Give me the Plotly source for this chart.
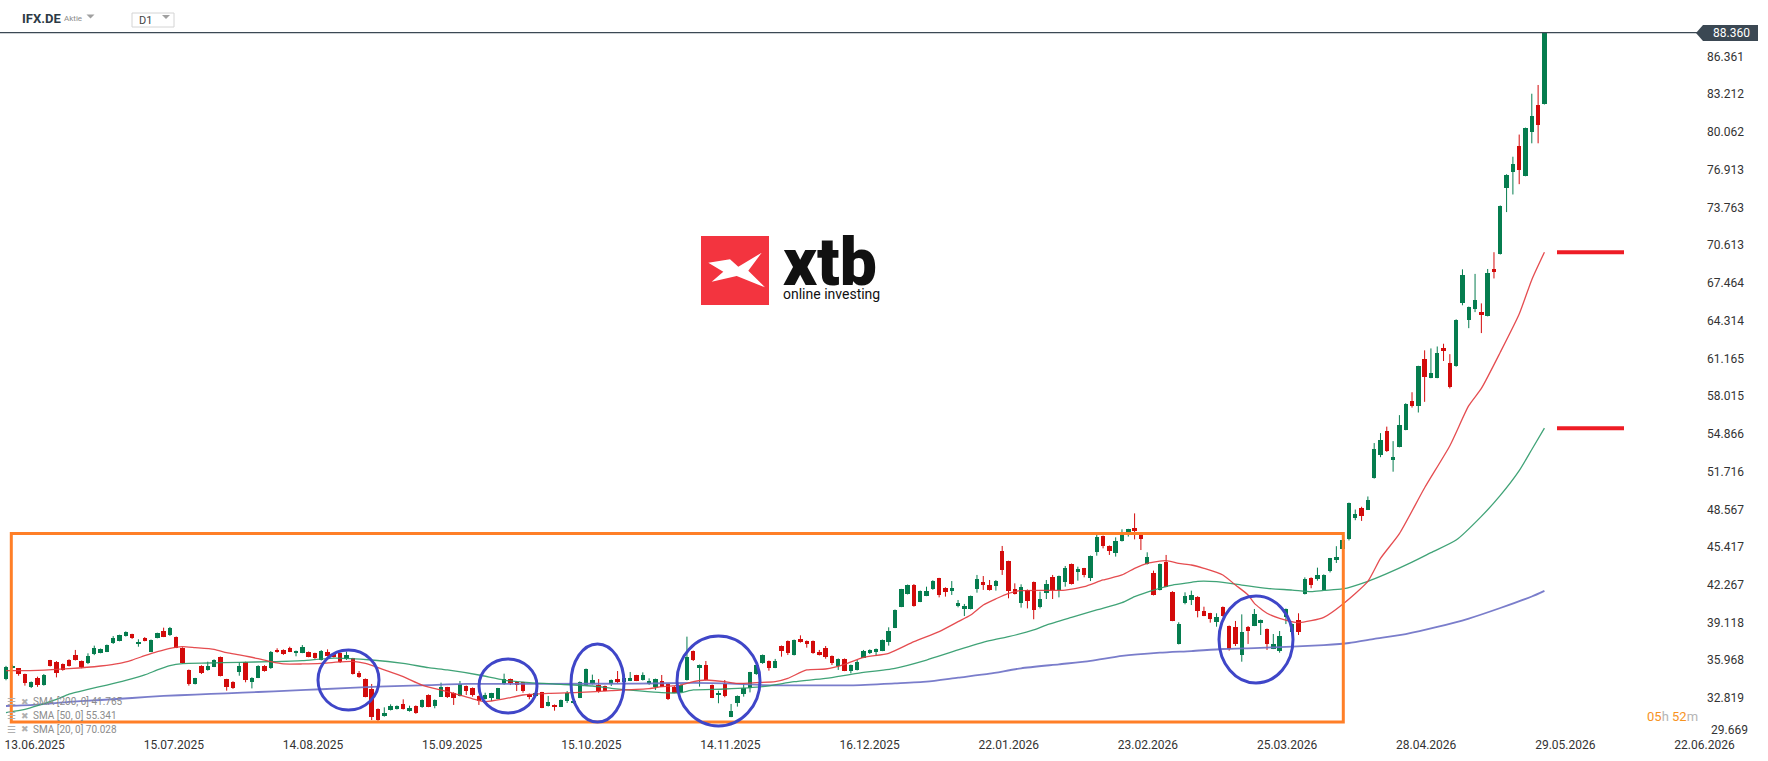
import plotly.graph_objects as go

# ---------------- data ----------------
symbol = "IFX.DE"
symbol_kind = "Aktie"
timeframe = "D1"
last_price = 88.360
countdown = ("05", "52")
brand = ("xtb", "online investing")

opens = [34.38, 35.37, 35.29, 34.82, 33.71, 34.46, 33.90, 35.99, 35.85, 35.66,
         35.99, 36.41, 35.91, 35.71, 36.46, 36.60, 36.69, 37.38, 37.61, 37.99,
         38.13, 37.30, 37.85, 36.69, 37.85, 38.41, 38.08, 37.91, 37.02, 35.16,
         33.99, 35.49, 35.16, 35.43, 36.24, 34.38, 34.18, 35.02, 35.80, 34.18,
         34.52, 35.52, 35.29, 36.83, 36.83, 36.97, 36.55, 36.60, 36.66, 36.55,
         35.99, 36.63, 36.49, 36.55, 36.05, 36.13, 34.93, 34.40, 33.57, 31.90,
         31.32, 31.82, 31.90, 32.29, 31.74, 32.15, 32.04, 33.07, 32.15, 32.93,
         33.71, 33.26, 32.99, 33.82, 33.65, 32.99, 32.74, 32.79, 32.76, 33.96,
         34.40, 34.18, 34.13, 33.15, 32.96, 33.29, 32.15, 32.24, 32.10, 32.60,
         32.38, 32.85, 33.90, 33.99, 33.90, 33.82, 33.99, 34.38, 34.18, 34.27,
         34.71, 34.32, 33.96, 33.71, 34.21, 33.99, 33.77, 33.35, 34.32, 36.74,
         35.29, 35.57, 33.90, 33.07, 33.96, 31.26, 32.38, 33.12, 33.68, 34.79,
         35.71, 35.91, 35.35, 37.16, 37.58, 36.41, 37.72, 37.58, 37.58, 36.69,
         36.97, 36.33, 35.52, 36.08, 35.07, 35.16, 36.19, 36.58, 36.69, 36.77,
         37.52, 38.69, 40.44, 41.50, 42.25, 40.86, 41.36, 41.89, 42.81, 41.98,
         41.78, 40.50, 40.28, 40.25, 41.92, 42.50, 42.25, 42.17, 45.09, 44.24,
         41.89, 40.78, 41.84, 42.50, 40.44, 41.61, 42.89, 41.84, 42.53, 44.00,
         43.36, 43.64, 42.86, 45.04, 46.34, 45.51, 44.95, 45.92, 46.62, 46.98,
         46.51, 44.00, 43.28, 41.84, 44.20, 41.70, 37.33, 40.78, 41.00, 41.28,
         40.08, 39.89, 39.19, 40.42, 38.83, 38.75, 36.41, 38.77, 38.86, 39.11,
         38.58, 36.94, 36.74, 39.61, 38.30, 39.33, 41.50, 42.85, 42.72, 41.86,
         43.42, 44.38, 45.27, 46.06, 47.88, 48.71, 48.55, 51.17, 53.14, 55.09,
         52.76, 53.78, 55.21, 57.60, 57.22, 61.11, 59.55, 59.55, 62.07, 60.82,
         60.51, 65.83, 64.39, 65.29, 65.03, 64.71, 68.66, 69.88, 75.39, 76.73,
         78.89, 76.41, 80.07, 82.34, 82.40]

highs = [35.50, 35.60, 35.30, 34.85, 34.20, 34.60, 34.82, 36.00, 35.90, 35.70,
         36.05, 36.83, 35.95, 36.55, 37.19, 36.95, 37.28, 37.99, 38.10, 38.38,
         38.18, 37.72, 37.90, 37.70, 38.27, 38.69, 38.75, 37.95, 37.05, 35.20,
         34.50, 35.55, 35.85, 36.05, 36.28, 34.42, 34.22, 35.80, 35.85, 34.55,
         35.55, 35.56, 36.74, 36.97, 36.88, 37.10, 36.78, 37.24, 36.70, 36.60,
         36.82, 36.88, 36.55, 36.60, 36.69, 36.17, 35.07, 34.45, 33.99, 31.95,
         32.04, 32.29, 32.20, 32.71, 32.18, 32.20, 32.70, 33.12, 32.70, 34.10,
         33.75, 33.30, 34.24, 33.86, 33.70, 33.03, 33.26, 33.25, 33.66, 34.85,
         34.44, 34.22, 34.17, 33.19, 33.25, 33.33, 32.99, 32.28, 32.69, 33.40,
         32.64, 34.20, 35.28, 34.77, 34.40, 33.86, 34.36, 35.07, 34.56, 34.99,
         34.75, 34.96, 34.46, 34.44, 34.74, 34.03, 33.81, 33.94, 37.94, 36.78,
         35.61, 35.91, 33.94, 33.43, 34.32, 32.32, 33.03, 34.04, 35.00, 35.61,
         36.45, 35.95, 36.08, 37.20, 37.62, 37.70, 38.05, 37.62, 37.62, 36.83,
         37.16, 36.37, 36.12, 36.12, 35.61, 35.99, 36.83, 36.88, 36.95, 37.70,
         38.72, 40.21, 41.93, 42.29, 42.33, 41.79, 42.11, 42.65, 42.85, 42.06,
         42.58, 41.00, 40.67, 41.37, 43.09, 43.00, 42.67, 42.67, 45.51, 44.28,
         42.39, 42.31, 41.88, 42.54, 41.70, 42.67, 43.09, 43.04, 43.84, 44.04,
         43.78, 43.68, 44.71, 46.48, 46.38, 45.55, 46.23, 46.90, 46.94, 48.23,
         46.55, 44.98, 43.45, 44.04, 44.76, 41.74, 39.14, 41.64, 41.78, 41.32,
         40.44, 39.93, 39.89, 40.46, 38.87, 39.25, 39.80, 38.83, 40.25, 39.37,
         38.62, 38.16, 38.41, 40.29, 39.03, 39.89, 42.89, 42.89, 43.70, 43.14,
         44.51, 45.49, 46.20, 49.13, 48.55, 48.78, 49.64, 54.10, 54.93, 55.47,
         54.26, 56.43, 57.42, 58.34, 60.55, 61.84, 62.00, 62.16, 62.39, 61.52,
         64.43, 68.60, 65.49, 68.22, 65.76, 68.63, 70.03, 73.93, 76.54, 78.00,
         79.85, 80.43, 83.26, 83.99, 88.36]

lows = [34.30, 35.30, 34.68, 33.85, 33.65, 33.75, 33.85, 35.45, 34.54, 35.10,
        35.45, 35.95, 35.30, 35.65, 36.40, 36.55, 36.65, 37.33, 37.55, 37.95,
        37.75, 37.10, 37.55, 36.65, 37.80, 37.90, 38.00, 36.98, 35.70, 33.85,
        33.95, 34.82, 35.10, 35.40, 34.62, 33.43, 33.58, 34.68, 34.13, 33.62,
        34.48, 35.02, 35.25, 36.60, 36.42, 36.65, 36.30, 36.56, 36.22, 36.08,
        35.95, 36.28, 36.20, 35.75, 36.00, 34.78, 34.50, 32.88, 30.98, 30.90,
        31.26, 31.78, 31.86, 31.86, 31.68, 31.50, 32.00, 32.05, 31.96, 32.90,
        32.82, 32.24, 32.95, 33.07, 32.93, 32.24, 32.70, 32.57, 32.72, 33.92,
        33.90, 33.40, 33.26, 32.71, 32.92, 31.97, 32.11, 31.76, 32.06, 32.40,
        32.34, 32.81, 33.86, 33.95, 33.26, 33.39, 33.82, 34.04, 34.14, 34.23,
        34.23, 34.28, 33.92, 33.49, 33.73, 32.65, 33.22, 33.31, 34.28, 35.91,
        33.77, 34.28, 32.81, 32.38, 32.88, 31.22, 32.10, 32.93, 33.29, 34.75,
        35.67, 35.10, 35.31, 36.27, 36.41, 36.37, 37.44, 37.02, 36.51, 36.37,
        36.10, 35.57, 35.16, 35.06, 34.88, 35.12, 36.15, 36.49, 36.33, 36.73,
        37.19, 38.65, 40.40, 41.46, 40.44, 40.82, 41.32, 41.85, 41.22, 41.28,
        41.42, 40.39, 39.66, 40.21, 41.61, 41.84, 41.78, 41.78, 43.09, 41.14,
        41.46, 40.36, 40.30, 39.39, 40.30, 41.08, 41.08, 41.22, 42.11, 42.29,
        42.61, 42.89, 42.58, 44.70, 45.31, 44.76, 44.62, 45.88, 46.29, 46.06,
        45.17, 43.96, 41.38, 41.80, 42.07, 39.23, 37.29, 40.64, 40.58, 39.55,
        39.65, 39.11, 38.77, 39.62, 36.77, 37.16, 35.85, 37.33, 38.82, 38.08,
        36.83, 36.90, 36.60, 38.99, 38.26, 38.08, 41.46, 41.98, 42.61, 41.82,
        43.30, 44.09, 45.23, 45.97, 47.66, 47.60, 48.51, 51.13, 52.92, 53.36,
        51.71, 53.74, 55.17, 57.06, 56.65, 57.54, 59.51, 59.51, 60.95, 58.66,
        60.47, 65.60, 63.69, 65.03, 63.28, 64.67, 67.84, 69.84, 73.38, 74.85,
        75.71, 76.37, 79.12, 79.12, 82.36]

closes = [35.43, 35.52, 34.82, 34.04, 34.18, 33.90, 34.74, 35.52, 34.93, 35.16,
          35.49, 35.99, 35.38, 36.32, 36.96, 36.91, 37.24, 37.85, 38.05, 38.30,
          37.80, 37.52, 37.61, 37.66, 38.22, 37.94, 38.66, 37.02, 35.77, 33.99,
          34.46, 34.88, 35.49, 35.99, 34.68, 33.71, 33.62, 35.52, 34.32, 34.49,
          35.49, 35.10, 36.69, 36.63, 36.46, 36.69, 36.74, 37.10, 36.27, 36.13,
          36.77, 36.32, 36.27, 35.80, 36.41, 34.82, 34.54, 32.93, 31.26, 30.98,
          31.60, 32.15, 32.15, 31.90, 31.99, 31.54, 32.65, 32.10, 32.65, 33.77,
          32.93, 32.85, 33.96, 33.40, 33.10, 32.57, 33.07, 33.21, 33.62, 34.40,
          34.10, 33.90, 33.43, 32.93, 33.21, 32.01, 32.49, 32.04, 32.65, 33.26,
          32.60, 34.16, 35.24, 34.32, 33.40, 33.43, 34.32, 34.16, 34.52, 34.52,
          34.27, 34.74, 34.24, 34.40, 33.77, 32.74, 33.26, 33.90, 36.27, 35.99,
          35.57, 34.32, 32.85, 33.26, 32.99, 31.76, 32.99, 33.62, 34.96, 35.57,
          36.41, 35.35, 35.91, 36.77, 36.60, 37.66, 37.52, 37.33, 36.55, 36.41,
          36.21, 35.77, 36.08, 35.10, 35.57, 35.80, 36.74, 36.83, 36.91, 37.66,
          38.41, 40.17, 41.89, 42.25, 40.50, 41.75, 41.78, 42.61, 41.42, 41.70,
          41.98, 40.72, 40.50, 41.33, 42.75, 42.25, 41.84, 42.59, 43.50, 41.78,
          41.50, 42.06, 40.92, 40.17, 41.08, 42.34, 41.84, 43.00, 43.64, 42.33,
          43.59, 43.09, 44.67, 46.29, 45.51, 45.12, 45.92, 46.70, 46.90, 46.76,
          46.09, 44.56, 41.42, 44.00, 42.11, 39.27, 38.99, 41.33, 41.42, 40.11,
          39.69, 39.41, 39.61, 39.66, 36.91, 37.33, 38.33, 38.41, 39.80, 39.33,
          37.33, 37.33, 37.99, 40.25, 38.99, 38.30, 42.72, 42.25, 43.05, 43.10,
          44.47, 44.63, 45.97, 49.09, 48.14, 47.98, 49.35, 53.62, 54.35, 53.40,
          52.92, 55.57, 57.38, 57.22, 60.51, 59.61, 59.93, 61.59, 61.78, 58.75,
          64.39, 68.12, 65.45, 66.05, 64.81, 68.28, 68.38, 73.89, 76.50, 77.40,
          76.89, 80.39, 81.38, 80.65, 88.36]

# moving averages at bar positions
sma20_x = [0, 5, 10, 15, 18, 20, 22, 24, 26, 28, 30, 33, 35, 37, 40, 42, 44, 47, 50, 52,
           55, 57, 60, 63, 66, 70, 74, 76, 79, 82, 86, 91, 96, 102, 104, 107, 109, 111, 114, 116,
           119, 122, 124, 127, 130, 133, 136, 140, 144, 148, 151, 153, 155, 157, 159, 161, 168, 171, 174, 177,
           179, 181, 184, 186, 188, 190, 193, 195, 197, 198, 200, 202, 205, 207, 209, 212, 216, 218, 221, 225,
           229, 232, 234, 237, 240, 242, 244]
sma20_v = [35.10, 35.13, 35.27, 35.49, 35.71, 35.99, 36.35, 36.69, 36.97, 37.10, 37.02, 36.88, 36.60, 36.41, 36.10, 35.85, 35.66, 35.66, 35.71, 35.80,
           35.88, 35.71, 35.16, 34.60, 33.90, 33.35, 32.75, 32.51, 32.74, 33.07, 33.21, 33.29, 33.43, 33.60, 33.77, 33.90, 34.18, 34.32, 34.18, 34.04,
           34.10, 34.18, 34.46, 35.16, 35.24, 35.63, 36.21, 36.55, 37.52, 38.36, 39.19, 39.75, 40.58, 41.10, 41.56, 41.78, 41.83, 42.11, 42.67, 43.09,
           43.64, 44.06, 44.28, 44.06, 43.92, 43.64, 43.09, 42.25, 41.42, 40.72, 39.89, 39.47, 39.11, 39.27, 39.55, 40.65, 42.56, 44.47, 46.54, 50.37,
           53.88, 57.22, 58.66, 61.68, 64.87, 67.74, 70.028]

sma50_x = [0, 3, 5, 8, 10, 13, 16, 19, 22, 24, 26, 28, 32, 37, 42, 47, 52, 58, 63, 67,
           70, 75, 79, 83, 88, 93, 96, 100, 104, 107, 109, 114, 120, 125, 130, 135, 141, 146, 151, 156,
           159, 163, 165, 169, 173, 177, 179, 182, 185, 188, 189, 192, 196, 200, 204, 207, 209, 212, 216, 219,
           223, 226, 230, 234, 237, 240, 242, 244]
sma50_v = [31.60, 31.87, 32.18, 32.71, 33.15, 33.54, 33.90, 34.29, 34.74, 35.16, 35.52, 35.69, 35.74, 35.80, 35.85, 35.94, 36.15, 35.99, 35.71, 35.35,
           35.16, 34.74, 34.32, 34.10, 33.96, 33.82, 33.63, 33.43, 33.26, 33.26, 33.49, 33.57, 33.77, 34.18, 34.46, 34.88, 35.30, 35.99, 36.83, 37.60,
           37.94, 38.50, 38.91, 39.55, 40.17, 40.78, 41.28, 41.83, 42.25, 42.47, 42.56, 42.53, 42.25, 41.97, 41.83, 41.70, 41.80, 41.92, 42.56, 43.20,
           44.16, 44.95, 46.00, 47.98, 49.73, 51.80, 53.56, 55.341]

sma200_x = [0, 5, 10, 15, 20, 25, 30, 35, 40, 45, 50, 59, 67, 73, 85, 100, 109, 114, 120, 125,
            134, 141, 146, 151, 156, 161, 167, 172, 177, 183, 188, 193, 198, 204, 209, 213, 217, 222, 227, 232,
            237, 242, 244]
sma200_v = [32.15, 32.26, 32.49, 32.65, 32.82, 32.99, 33.10, 33.21, 33.32, 33.43, 33.55, 33.77, 33.90, 33.99, 34.00, 34.02, 34.08, 34.04, 33.90, 33.88,
            33.88, 34.04, 34.18, 34.52, 34.85, 35.30, 35.63, 35.91, 36.33, 36.60, 36.74, 36.91, 36.99, 37.10, 37.24, 37.41, 37.75, 38.16, 38.75, 39.45,
            40.33, 41.29, 41.765]

sma_labels = ["SMA [200, 0] 41.765", "SMA [50, 0] 55.341", "SMA [20, 0] 70.028"]

x_tick_labels = ["13.06.2025", "15.07.2025", "14.08.2025", "15.09.2025", "15.10.2025",
                 "14.11.2025", "16.12.2025", "22.01.2026", "23.02.2026", "25.03.2026",
                 "28.04.2026", "29.05.2026", "22.06.2026"]
y_tick_labels = ["29.669", "32.819", "35.968", "39.118", "42.267", "45.417", "48.567",
                 "51.716", "54.866", "58.015", "61.165", "64.314", "67.464", "70.613",
                 "73.763", "76.913", "80.062", "83.212", "86.361"]

# ---------------- geometry / style ----------------
W, H = 1768, 761
PLOT_W, PLOT_H = 1706, 736
BAR0_PX, BAR_PX = 6.0, 6.305
Y_REF_V, Y_REF_PX, PX_PER_UNIT = 32.819, 698.0, 11.98

GREEN = "#067d4f"
RED = "#d30b0b"
ORANGE = "#ff7f27"
BLUE = "#3f46c8"
SLATE = "#3b4853"


def x_of_px(px):
    return (px - BAR0_PX) / BAR_PX


def v_of_py(py):
    return Y_REF_V + (Y_REF_PX - py) / PX_PER_UNIT


def xp(px):
    return px / PLOT_W


def yp(py):
    return (PLOT_H - py) / PLOT_H


def note(px, py, text, size, color, xanchor="left", family="Roboto", weight=None, align=None):
    f = dict(size=size, color=color, family=family)
    if weight is not None:
        f["weight"] = weight
    d = dict(xref="paper", yref="paper", x=xp(px), y=yp(py), text=text,
             xanchor=xanchor, yanchor="middle", showarrow=False, font=f)
    if align:
        d["align"] = align
    return d


fig = go.Figure()

n = len(opens)
for is_up, col in [(True, GREEN), (False, RED)]:
    ids = [i for i in range(n) if (closes[i] >= opens[i]) == is_up]
    wx, wy = [], []
    for i in ids:
        wx += [i, i, None]
        wy += [lows[i], highs[i], None]
    fig.add_trace(go.Scatter(x=wx, y=wy, mode="lines", line=dict(color=col, width=1),
                             hoverinfo="skip"))
    fig.add_trace(go.Bar(x=ids,
                         y=[max(abs(closes[i] - opens[i]), 0.06) for i in ids],
                         base=[min(opens[i], closes[i]) for i in ids],
                         width=0.7, marker=dict(color=col, line=dict(width=0)),
                         hoverinfo="skip"))

for xs, ys, col, w in [(sma200_x, sma200_v, "#6c70c6", 1.8),
                       (sma50_x, sma50_v, "#2c9a69", 1.3),
                       (sma20_x, sma20_v, "#e33a3e", 1.3)]:
    fig.add_trace(go.Scatter(x=xs, y=ys, mode="lines",
                             line=dict(color=col, width=w, shape="spline", smoothing=0.6),
                             opacity=0.9, hoverinfo="skip"))

shapes = []
annotations = []

# last price line + tag
shapes.append(dict(type="line", xref="paper", yref="y", x0=0, x1=xp(1697),
                   y0=last_price, y1=last_price, line=dict(color=SLATE, width=1.2)))
shapes.append(dict(type="path", xref="paper", yref="paper",
                   path=f"M {xp(1696)},{yp(33)} L {xp(1703)},{yp(25)} L {xp(1758)},{yp(25)} "
                        f"L {xp(1758)},{yp(41)} L {xp(1703)},{yp(41)} Z",
                   fillcolor=SLATE, line=dict(width=0)))
annotations.append(note(1731, 33, f"{last_price:.3f}", 12, "white", xanchor="center"))

# orange box
shapes.append(dict(type="rect", xref="paper", yref="paper", x0=xp(11.3), x1=xp(1343.3),
                   y0=yp(722), y1=yp(533.5), line=dict(color=ORANGE, width=3)))

# blue ellipses
for (ax0, ax1, ay0, ay1) in [(318, 379, 650, 710), (479, 537, 659, 713),
                             (571, 624, 644, 722), (677, 760, 636, 726),
                             (1219, 1293, 596, 683)]:
    shapes.append(dict(type="circle", xref="paper", yref="paper", x0=xp(ax0), x1=xp(ax1),
                       y0=yp(ay1), y1=yp(ay0), line=dict(color=BLUE, width=3)))

# red level markers at the SMA 20 / SMA 50 end values
for lvl in (sma20_v[-1], sma50_v[-1]):
    shapes.append(dict(type="line", xref="paper", yref="y", x0=xp(1557), x1=xp(1624),
                       y0=lvl, y1=lvl, line=dict(color="#ee1c25", width=4)))

# xtb logo
shapes.append(dict(type="rect", xref="paper", yref="paper", x0=xp(701), x1=xp(769),
                   y0=yp(305), y1=yp(236), fillcolor="#f3343f", line=dict(width=0)))
pts = [(708.3, 262.7), (730, 259.3), (738.3, 266.7), (761.7, 252.7), (748.3, 270.7),
       (765, 287.3), (736.7, 276), (711.7, 281.7), (723.3, 271.7)]
path = "M " + " L ".join(f"{xp(a)},{yp(b)}" for a, b in pts) + " Z"
shapes.append(dict(type="path", xref="paper", yref="paper", path=path,
                   fillcolor="white", line=dict(width=0)))
brand_text = (f'<span style="font-size:66px;font-weight:900">{brand[0]}</span><br>'
              f'<span style="font-size:14px">{brand[1]}</span>')
annotations.append(note(781, 263, brand_text, 11, "#111111", xanchor="left", align="left"))

# header
annotations.append(note(20, 18, f"<b>{symbol}</b>", 13, "#2d3a45"))
annotations.append(note(61.5, 19, symbol_kind, 8, "#8a8a8a"))
shapes.append(dict(type="path", xref="paper", yref="paper",
                   path=f"M {xp(86.5)},{yp(14.5)} L {xp(94.5)},{yp(14.5)} L {xp(90.5)},{yp(18.5)} Z",
                   fillcolor="#a0a0a0", line=dict(width=0)))
shapes.append(dict(type="rect", xref="paper", yref="paper", x0=xp(132), x1=xp(174),
                   y0=yp(27), y1=yp(13), fillcolor="white", line=dict(color="#d4d4d4", width=1)))
annotations.append(note(137, 20.5, timeframe, 11, "#444444"))
shapes.append(dict(type="path", xref="paper", yref="paper",
                   path=f"M {xp(162)},{yp(15)} L {xp(170)},{yp(15)} L {xp(166)},{yp(19)} Z",
                   fillcolor="#a0a0a0", line=dict(width=0)))

# SMA legend (bottom-left)
for k, lab in enumerate(sma_labels):
    yy = 701.7 + 13.8 * k
    annotations.append(note(5, yy, "☰", 10, "#b0b0b0", family="DejaVu Sans"))
    annotations.append(note(18.5, yy, "✖", 9, "#b0b0b0", family="DejaVu Sans"))
    annotations.append(note(30.5, yy, lab, 10, "#8c8c8c"))

# candle countdown
annotations.append(note(1645, 716,
                        (f'<span style="color:#f7931e">{countdown[0]}</span>'
                         f'<span style="color:#b5b5b5">h </span>'
                         f'<span style="color:#f7931e">{countdown[1]}</span>'
                         f'<span style="color:#b5b5b5">m</span>'),
                        13, "#f7931e"))

# lowest price label sits squeezed just above the date row (as in the source)
annotations.append(note(1709, 730, y_tick_labels[0], 12, "#333333"))

x_tick_pos = [4.55 + 22.07 * k for k in range(len(x_tick_labels))]

fig.update_layout(
    template="none",
    width=W, height=H,
    margin=dict(l=0, r=W - PLOT_W, t=0, b=H - PLOT_H, pad=0),
    paper_bgcolor="white", plot_bgcolor="white",
    showlegend=False, barmode="overlay", bargap=0,
    font=dict(family="Roboto", size=12, color="#333333"),
    shapes=shapes, annotations=annotations,
    hovermode=False,
)
fig.update_xaxes(range=[x_of_px(0), x_of_px(PLOT_W)], tickmode="array",
                 tickvals=x_tick_pos, ticktext=x_tick_labels,
                 showgrid=False, zeroline=False, showline=False, ticks="",
                 automargin=False, tickfont=dict(size=12, color="#333333", family="Roboto"))
fig.update_yaxes(side="right", range=[v_of_py(PLOT_H), v_of_py(0)], tickmode="array",
                 tickvals=[float(t) for t in y_tick_labels[1:]], ticktext=y_tick_labels[1:],
                 showgrid=False, zeroline=False, showline=False, ticks="",
                 automargin=False, tickfont=dict(size=12, color="#333333", family="Roboto"))

fig.write_html("out.html", config={"displayModeBar": False})
